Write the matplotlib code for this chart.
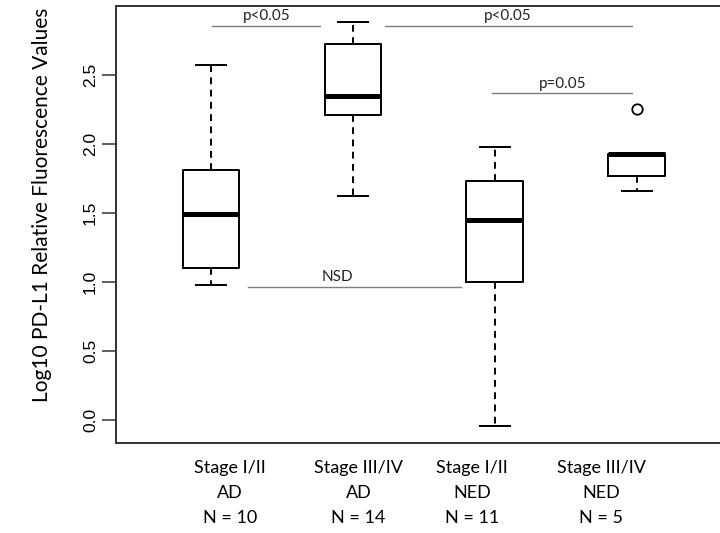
import matplotlib
matplotlib.use("Agg")
import matplotlib.pyplot as plt
import matplotlib.transforms as mtransforms

# ---- data ----
groups = ["Stage I/II\nAD\nN = 10", "Stage III/IV\nAD\nN = 14",
          "Stage I/II\nNED\nN = 11", "Stage III/IV\nNED\nN = 5"]
whis_lo = [0.98, 1.62, -0.04, 1.66]
q1 = [1.10, 2.21, 1.00, 1.77]
medians = [1.49, 2.35, 1.45, 1.925]
q3 = [1.81, 2.72, 1.73, 1.93]
whis_hi = [2.57, 2.88, 1.98, 1.93]
fliers = [[], [], [], [2.25]]
yticks = [0.0, 0.5, 1.0, 1.5, 2.0, 2.5]
ylabel = "Log10 PD-L1 Relative Fluorescence Values"

# ---- figure ----
W, H = 720, 533
fig = plt.figure(figsize=(W / 100, H / 100), dpi=100)
ax = fig.add_axes([116 / W, (H - 442.7) / H, 609 / W, 436.7 / H])

stats = []
for i in range(len(groups)):
    stats.append(dict(med=medians[i], q1=q1[i], q3=q3[i],
                      whislo=whis_lo[i], whishi=whis_hi[i],
                      fliers=fliers[i]))

ax.bxp(stats, positions=[1, 2, 3, 4], widths=0.40, showfliers=True,
       boxprops=dict(color="black", linewidth=1.4),
       medianprops=dict(color="black", linewidth=3.6, solid_capstyle="butt"),
       whiskerprops=dict(color="black", linewidth=1.4, linestyle=(0, (3.5, 2.8))),
       capprops=dict(color="black", linewidth=1.4),
       capwidths=0.21,
       flierprops=dict(marker="o", markerfacecolor="white",
                       markeredgecolor="black", markersize=7.5,
                       markeredgewidth=1.3))

ax.set_xlim(0.3305, 4.622)
ax.set_ylim(-0.162, 2.998)
ax.set_yticks(yticks)
ax.set_yticklabels([f"{v:.1f}" for v in yticks], rotation=90, va="center",
                   fontfamily="Liberation Sans", fontsize=12.5)
ax.tick_params(axis="y", length=10, width=1.1, color="#333333", pad=3)
ax.set_xticks([])
for s in ["left", "bottom", "top"]:
    ax.spines[s].set_linewidth(1.4)
    ax.spines[s].set_color("#333333")
ax.spines["right"].set_visible(False)

fig.text(42 / W, 1 - 205 / H, ylabel, rotation=90, ha="center", va="center",
         fontfamily="Lato", fontsize=15)

# group labels under axis
label_x = [1.134, 2.04, 2.839, 3.748]
trans = mtransforms.blended_transform_factory(ax.transData, fig.transFigure)
for x, lab in zip(label_x, groups):
    ax.text(x, 1 - 493 / H, lab, transform=trans, ha="center", va="center",
            fontfamily="Lato", fontsize=13, linespacing=1.68)

# significance annotations
ann_color = "#7f7f7f"
def bracket(x0, x1, y, txt, tx=None):
    ax.plot([x0, x1], [y, y], color=ann_color, linewidth=1.0)
    ax.text((x0 + x1) / 2 if tx is None else tx, y + 0.02, txt,
            ha="center", va="bottom", fontfamily="Lato", fontsize=11,
            color="#222222")

bracket(1.007, 1.768, 2.855, "p<0.05", 1.39)
bracket(2.226, 3.967, 2.855, "p<0.05", 3.09)
bracket(2.98, 3.967, 2.366, "p=0.05", 3.48)
bracket(1.26, 2.76, 0.967, "NSD", 1.89)

fig.savefig("out.png", dpi=100, facecolor="white")
